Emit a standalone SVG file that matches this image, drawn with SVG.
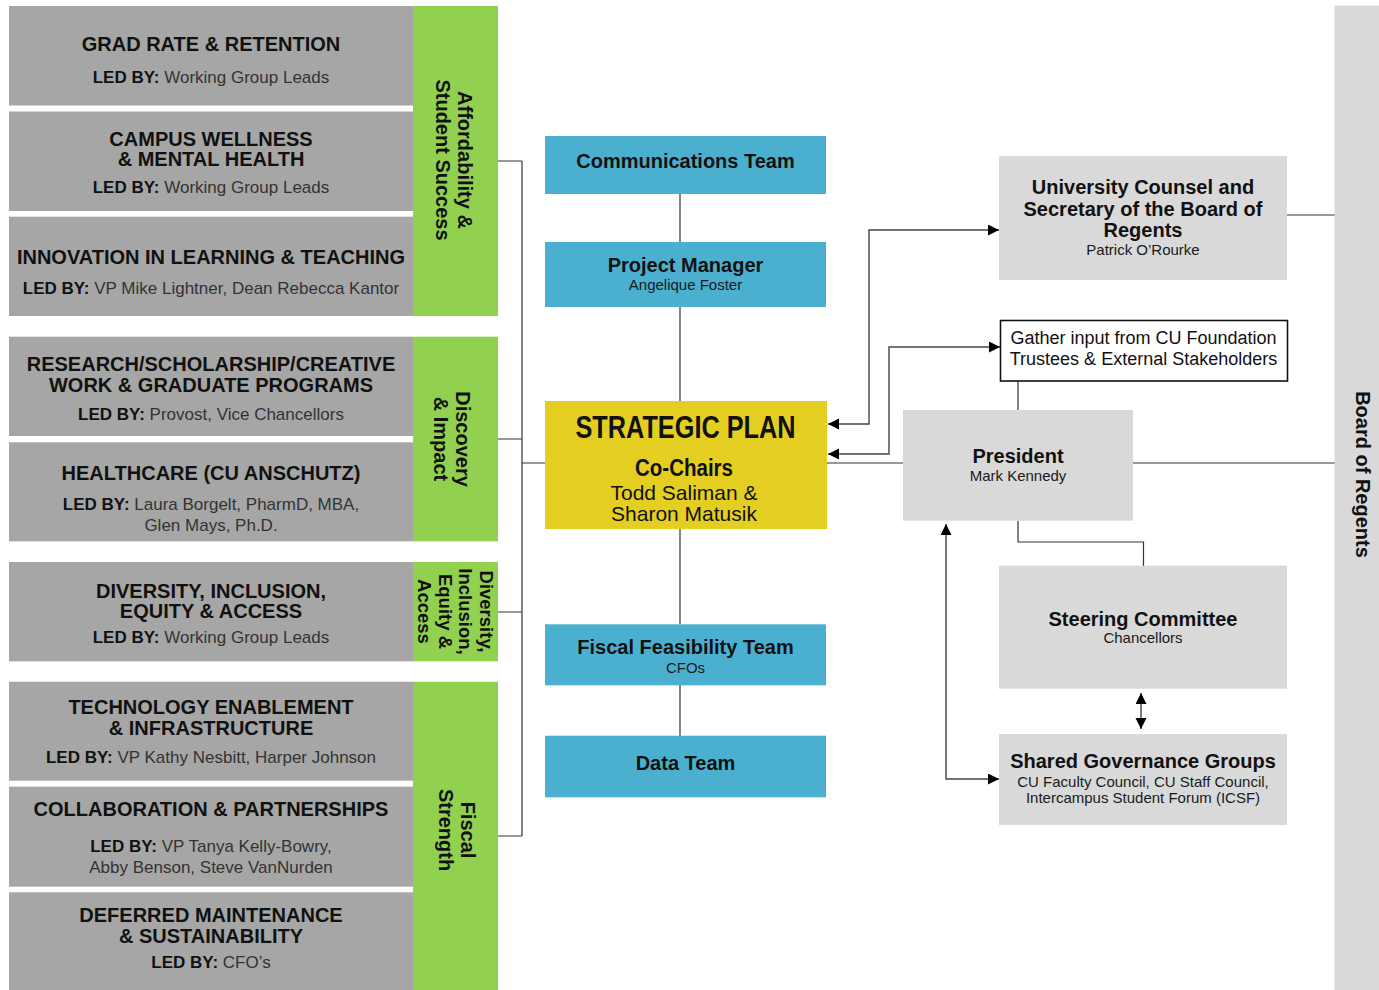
<svg xmlns="http://www.w3.org/2000/svg" width="1379" height="990" viewBox="0 0 1379 990">
<style>
text{font-family:"Liberation Sans",Arial,Helvetica,sans-serif;fill:#111}
.wg{fill:#a6a6a6}
.gr{fill:#92d050}
.bl{fill:#4bb0d0}
.lg{fill:#d9d9d9}
.t{font-size:20px;font-weight:bold;text-anchor:middle}
.led{font-size:17px;text-anchor:middle;fill:#333}
.lb{font-weight:bold;fill:#111}
.gl{font-size:20px;font-weight:bold;text-anchor:middle}
.gs{font-size:18.5px;font-weight:bold;text-anchor:middle}
.s{font-size:15px;text-anchor:middle;fill:#1a1a1a}
.ln{fill:none;stroke:#333;stroke-width:1.2}
.ar{fill:none;stroke:#444;stroke-width:1.4;marker-end:url(#ah);marker-start:url(#ah)}
</style>
<defs>
<marker id="ah" markerUnits="userSpaceOnUse" markerWidth="12" markerHeight="12" refX="11" refY="5.5" orient="auto-start-reverse"><path d="M0,0 L11,5.5 L0,11 z" fill="#000"/></marker>
</defs>

<g id="connectors">
<path class="ln" d="M498,161 H522 M498,439 H522 M498,612 H522 M498,836 H522 M522,161 V836 M522,463 H545"/>
<path class="ln" d="M680,194 V242 M680,307 V401 M680,529 V624 M680,685 V736"/>
<path class="ln" d="M827,463 H903 M1133,463 H1335 M1287,215 H1335"/>
<path class="ln" d="M1018,381 V410"/>
<path class="ln" d="M1018,521 V542 H1143.5 V566"/>
<path class="ar" d="M1141,693 V729"/>
<path class="ar" d="M946,524 V779 H999"/>
<path class="ar" d="M999,230 H869 V424 H828"/>
<path class="ar" d="M1000,347 H889 V454 H828"/>
</g>

<g id="grad-rate">
<rect class="wg" x="9" y="6" width="404" height="99.5"/>
<text class="t" x="211" y="50.5">GRAD RATE &amp; RETENTION</text>
<text class="led" x="211" y="82.7"><tspan class="lb">LED BY: </tspan>Working Group Leads</text>
</g>
<g id="campus-wellness">
<rect class="wg" x="9" y="111.5" width="404" height="99.5"/>
<text class="t" x="211" y="145.7">CAMPUS WELLNESS</text>
<text class="t" x="211" y="166">&amp; MENTAL HEALTH</text>
<text class="led" x="211" y="192.7"><tspan class="lb">LED BY: </tspan>Working Group Leads</text>
</g>
<g id="innovation">
<rect class="wg" x="9" y="216.7" width="404" height="99.3"/>
<text class="t" x="211" y="264.3">INNOVATION IN LEARNING &amp; TEACHING</text>
<text class="led" x="211" y="294"><tspan class="lb">LED BY: </tspan>VP Mike Lightner, Dean Rebecca Kantor</text>
</g>
<g id="affordability">
<rect class="gr" x="413" y="6" width="85" height="310"/>
<text class="gl" transform="translate(458,160) rotate(90)">Affordability &amp;</text>
<text class="gl" transform="translate(436,160) rotate(90)">Student Success</text>
</g>

<g id="research">
<rect class="wg" x="9" y="336.7" width="404" height="99.3"/>
<text class="t" x="211" y="371.3">RESEARCH/SCHOLARSHIP/CREATIVE</text>
<text class="t" x="211" y="392">WORK &amp; GRADUATE PROGRAMS</text>
<text class="led" x="211" y="420"><tspan class="lb">LED BY: </tspan>Provost, Vice Chancellors</text>
</g>
<g id="healthcare">
<rect class="wg" x="9" y="442.3" width="404" height="99"/>
<text class="t" x="211" y="480">HEALTHCARE (CU ANSCHUTZ)</text>
<text class="led" x="211" y="510"><tspan class="lb">LED BY: </tspan>Laura Borgelt, PharmD, MBA,</text>
<text class="led" x="211" y="530.7">Glen Mays, Ph.D.</text>
</g>
<g id="discovery">
<rect class="gr" x="413" y="336.7" width="85" height="204.6"/>
<text class="gl" transform="translate(456,439) rotate(90)">Discovery</text>
<text class="gl" transform="translate(434,439) rotate(90)">&amp; Impact</text>
</g>

<g id="diversity">
<rect class="wg" x="9" y="562" width="404" height="99.3"/>
<text class="t" x="211" y="598.3">DIVERSITY, INCLUSION,</text>
<text class="t" x="211" y="618.3">EQUITY &amp; ACCESS</text>
<text class="led" x="211" y="643.3"><tspan class="lb">LED BY: </tspan>Working Group Leads</text>
</g>
<g id="diversity-pillar">
<rect class="gr" x="413" y="562" width="85" height="99.3"/>
<text class="gs" transform="translate(479.5,611.5) rotate(90)">Diversity,</text>
<text class="gs" transform="translate(459,611.5) rotate(90)">Inclusion,</text>
<text class="gs" transform="translate(438.5,611.5) rotate(90)">Equity &amp;</text>
<text class="gs" transform="translate(418,611.5) rotate(90)">Access</text>
</g>

<g id="technology">
<rect class="wg" x="9" y="681.7" width="404" height="99"/>
<text class="t" x="211" y="714.3">TECHNOLOGY ENABLEMENT</text>
<text class="t" x="211" y="735">&amp; INFRASTRUCTURE</text>
<text class="led" x="211" y="762.7"><tspan class="lb">LED BY: </tspan>VP Kathy Nesbitt, Harper Johnson</text>
</g>
<g id="collaboration">
<rect class="wg" x="9" y="786.7" width="404" height="100"/>
<text class="t" x="211" y="816">COLLABORATION &amp; PARTNERSHIPS</text>
<text class="led" x="211" y="852"><tspan class="lb">LED BY: </tspan>VP Tanya Kelly-Bowry,</text>
<text class="led" x="211" y="872.7">Abby Benson, Steve VanNurden</text>
</g>
<g id="deferred">
<rect class="wg" x="9" y="892.3" width="404" height="97.7"/>
<text class="t" x="211" y="922.3">DEFERRED MAINTENANCE</text>
<text class="t" x="211" y="943.3">&amp; SUSTAINABILITY</text>
<text class="led" x="211" y="968.3"><tspan class="lb">LED BY: </tspan> CFO’s</text>
</g>
<g id="fiscal-strength">
<rect class="gr" x="413" y="681.7" width="85" height="308.3"/>
<text class="gl" transform="translate(461,830) rotate(90)">Fiscal</text>
<text class="gl" transform="translate(439,830) rotate(90)">Strength</text>
</g>

<g id="communications">
<rect class="bl" x="545" y="136" width="281" height="58"/>
<text class="t" x="685.5" y="168.3">Communications Team</text>
</g>
<g id="project-manager">
<rect class="bl" x="545" y="242" width="281" height="65"/>
<text class="t" x="685.5" y="271.7">Project Manager</text>
<text class="s" x="685.5" y="290">Angelique Foster</text>
</g>
<g id="strategic-plan">
<rect x="545" y="401" width="282" height="128" fill="#e5ce22"/>
<text x="685.5" y="438.3" font-size="32" font-weight="bold" text-anchor="middle" textLength="220" lengthAdjust="spacingAndGlyphs">STRATEGIC PLAN</text>
<text x="684" y="476" font-size="23" font-weight="bold" text-anchor="middle" textLength="98" lengthAdjust="spacingAndGlyphs">Co-Chairs</text>
<text x="684" y="500" font-size="21" text-anchor="middle">Todd Saliman &amp;</text>
<text x="684" y="520.7" font-size="21" text-anchor="middle">Sharon Matusik</text>
</g>
<g id="fiscal-feasibility">
<rect class="bl" x="545" y="624.3" width="281" height="61"/>
<text class="t" x="685.5" y="654.3">Fiscal Feasibility Team</text>
<text class="s" x="685.5" y="672.7">CFOs</text>
</g>
<g id="data-team">
<rect class="bl" x="545" y="735.7" width="281" height="61.6"/>
<text class="t" x="685.5" y="770">Data Team</text>
</g>

<g id="university-counsel">
<rect class="lg" x="999" y="156" width="288" height="124"/>
<text class="t" x="1143" y="194">University Counsel and</text>
<text class="t" x="1143" y="216">Secretary of the Board of</text>
<text class="t" x="1143" y="237.3">Regents</text>
<text class="s" x="1143" y="255">Patrick O’Rourke</text>
</g>
<g id="gather-input">
<rect x="1000.5" y="320.5" width="287" height="60.5" fill="#fff" stroke="#111" stroke-width="1.6"/>
<text x="1143.5" y="344" font-size="18" text-anchor="middle">Gather input from CU Foundation</text>
<text x="1143.5" y="365" font-size="18" text-anchor="middle">Trustees &amp; External Stakeholders</text>
</g>
<g id="president">
<rect class="lg" x="903" y="410" width="230" height="110.7"/>
<text class="t" x="1018" y="462.7">President</text>
<text class="s" x="1018" y="480.7">Mark Kennedy</text>
</g>
<g id="steering-committee">
<rect class="lg" x="999" y="565.7" width="288" height="123"/>
<text class="t" x="1143" y="625.7">Steering Committee</text>
<text class="s" x="1143" y="643.3">Chancellors</text>
</g>
<g id="shared-governance">
<rect class="lg" x="999" y="734" width="288" height="91"/>
<text class="t" x="1143" y="768.3">Shared Governance Groups</text>
<text class="s" x="1143" y="786.7">CU Faculty Council, CU Staff Council,</text>
<text class="s" x="1143" y="803.3">Intercampus Student Forum (ICSF)</text>
</g>
<g id="board-of-regents">
<rect class="lg" x="1334.5" y="5.5" width="44.5" height="984.5"/>
<text class="gl" transform="translate(1356,474.5) rotate(90)">Board of Regents</text>
</g>
</svg>
